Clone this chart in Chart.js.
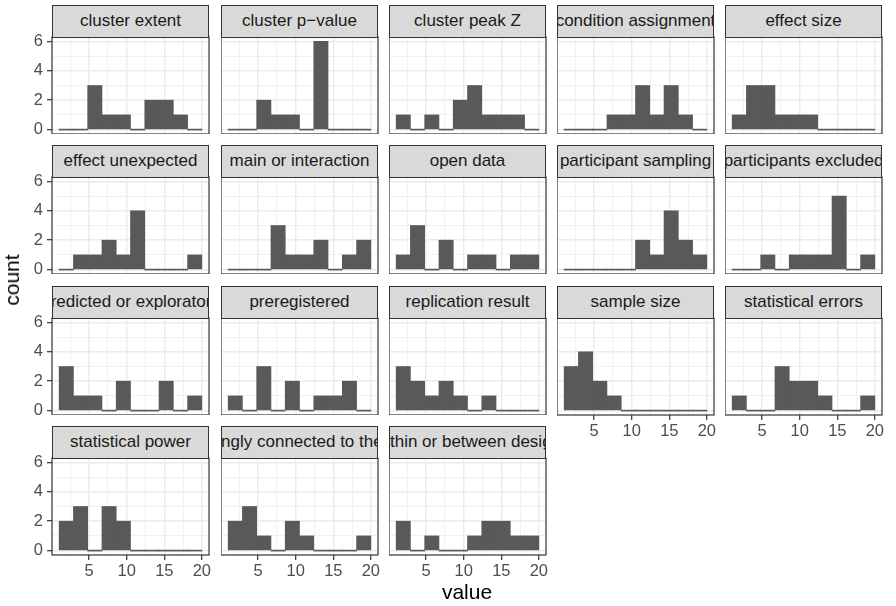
<!DOCTYPE html>
<html>
<head>
<meta charset="utf-8">
<script src="https://cdn.jsdelivr.net/npm/chart.js@4.4.0/dist/chart.umd.min.js"></script>
<style>
  body { margin: 0; background: #fff; width: 896px; height: 606px; position: relative; overflow: hidden; font-family: "Liberation Sans", Arial, sans-serif; }
  canvas { position: absolute; }
  .strip { position: absolute; box-sizing: border-box; background: #d9d9d9; border: 1px solid #333;
           display: flex; align-items: center; justify-content: center; overflow: hidden;
           white-space: nowrap; color: #1a1a1a; font-size: 17px; }
  .axis-title { position: absolute; color: #000; font-size: 21px; white-space: nowrap; }
</style>
</head>
<body>
<div id="plot"></div>
<script>
// ---- data -----------------------------------------------------------------
// 10 histogram bins of width 1.9 spanning 1..20 (bin centres)
const binCenters = [1.95, 3.85, 5.75, 7.65, 9.55, 11.45, 13.35, 15.25, 17.15, 19.05];
const xTicks = [5, 10, 15, 20];
const yTicks = [0, 2, 4, 6];

const facetNames = [
  'cluster extent', 'cluster p\u2212value', 'cluster peak Z', 'condition assignment', 'effect size',
  'effect unexpected', 'main or interaction', 'open data', 'participant sampling', 'participants excluded',
  'predicted or exploratory', 'preregistered', 'replication result', 'sample size', 'statistical errors',
  'statistical power', 'strongly connected to theory', 'within or between design'
];

const clusterExtent      = [0, 0, 3, 1, 1, 0, 2, 2, 1, 0];
const clusterPValue      = [0, 0, 2, 1, 1, 0, 6, 0, 0, 0];
const clusterPeakZ       = [1, 0, 1, 0, 2, 3, 1, 1, 1, 0];
const conditionAssign    = [0, 0, 0, 1, 1, 3, 1, 3, 1, 0];
const effectSize         = [1, 3, 3, 1, 1, 1, 0, 0, 0, 0];
const effectUnexpected   = [0, 1, 1, 2, 1, 4, 0, 0, 0, 1];
const mainOrInteraction  = [0, 0, 0, 3, 1, 1, 2, 0, 1, 2];
const openData           = [1, 3, 0, 2, 0, 1, 1, 0, 1, 1];
const participantSampling = [0, 0, 0, 0, 0, 2, 1, 4, 2, 1];
const participantsExcluded = [0, 0, 1, 0, 1, 1, 1, 5, 0, 1];
const predictedOrExpl    = [3, 1, 1, 0, 2, 0, 0, 2, 0, 1];
const preregistered      = [1, 0, 3, 0, 2, 0, 1, 1, 2, 0];
const replicationResult  = [3, 2, 1, 2, 1, 0, 1, 0, 0, 0];
const sampleSize         = [3, 4, 2, 1, 0, 0, 0, 0, 0, 0];
const statisticalErrors  = [1, 0, 0, 3, 2, 2, 1, 0, 0, 1];
const statisticalPower   = [2, 3, 0, 3, 2, 0, 0, 0, 0, 0];
const connectedToTheory  = [2, 3, 1, 0, 2, 1, 0, 0, 0, 1];
const withinOrBetween    = [2, 0, 1, 0, 0, 1, 2, 2, 1, 1];

const facetCounts = [
  clusterExtent, clusterPValue, clusterPeakZ, conditionAssign, effectSize,
  effectUnexpected, mainOrInteraction, openData, participantSampling, participantsExcluded,
  predictedOrExpl, preregistered, replicationResult, sampleSize, statisticalErrors,
  statisticalPower, connectedToTheory, withinOrBetween
];

// ---- layout ---------------------------------------------------------------
const NCOL = 5;
const colLeft = [52, 221, 389, 557, 725];
const rowTop = [37, 177, 318, 458];
const PW = 157, PH = 97, STRIP_H = 32.5;
const PAD_T = 12, PAD_R = 14, AXIS_L = 52, AXIS_B = 40;

Chart.defaults.font.family = '"Liberation Sans", Arial, sans-serif';

// minor grid at the midpoints between major breaks
const xGrid = [];
xTicks.forEach(v => { xGrid.push(v - 2.5, v); });
const yGrid = [];
yTicks.forEach((v, i) => { if (i > 0) yGrid.push(v - 1); yGrid.push(v); });

const panelFrame = {
  id: 'panelFrame',
  afterDraw(chart) {
    const a = chart.chartArea, ctx = chart.ctx;
    ctx.save();
    ctx.strokeStyle = '#333333';
    ctx.lineWidth = 1.2;
    ctx.strokeRect(a.left, a.top, a.right - a.left, a.bottom - a.top);
    ctx.restore();
  }
};

function makePanel(i) {
  const col = i % NCOL, row = Math.floor(i / NCOL);
  const showY = col === 0;
  const showX = i + NCOL >= facetNames.length;
  const L = showY ? AXIS_L : 0;
  const B = showX ? AXIS_B : 0;
  const plot = document.getElementById('plot');

  const canvas = document.createElement('canvas');
  const w = L + PW + PAD_R, h = PAD_T + PH + B;
  canvas.width = w; canvas.height = h;
  canvas.style.width = w + 'px'; canvas.style.height = h + 'px';
  canvas.style.left = (colLeft[col] - L) + 'px';
  canvas.style.top = (rowTop[row] - PAD_T) + 'px';
  plot.appendChild(canvas);

  const strip = document.createElement('div');
  strip.className = 'strip';
  strip.textContent = facetNames[i];
  strip.style.left = colLeft[col] + 'px';
  strip.style.top = (rowTop[row] - STRIP_H) + 'px';
  strip.style.width = PW + 'px';
  strip.style.height = (STRIP_H + 1) + 'px';
  plot.appendChild(strip);

  const counts = facetCounts[i];

  new Chart(canvas, {
    type: 'bar',
    data: {
      datasets: [{
        data: binCenters.map((x, j) => ({ x: x, y: counts[j] })),
        backgroundColor: '#595959',
        borderWidth: 0,
        barPercentage: 1,
        categoryPercentage: 1,
        minBarLength: 1
      }]
    },
    options: {
      responsive: false,
      animation: false,
      events: [],
      layout: { padding: { top: PAD_T, right: PAD_R, left: 0, bottom: 0 } },
      plugins: { legend: { display: false }, tooltip: { enabled: false } },
      scales: {
        x: {
          type: 'linear', min: 0.05, max: 20.95, offset: false,
          afterBuildTicks: s => { s.ticks = xGrid.map(v => ({ value: v })); },
          afterFit: s => { s.height = B; s.paddingLeft = 0; s.paddingRight = 0; },
          border: { display: false },
          grid: {
            offset: false,
            color: '#ebebeb',
            lineWidth: c => xTicks.includes(c.tick.value) ? 1.4 : 0.7,
            drawTicks: showX,
            tickLength: 5,
            tickWidth: 1.2,
            tickColor: c => xTicks.includes(c.tick.value) ? '#333333' : 'rgba(0,0,0,0)'
          },
          ticks: {
            display: showX, color: '#4d4d4d', font: { size: 16.5 }, padding: 2,
            maxRotation: 0, autoSkip: false,
            callback: v => xTicks.includes(v) ? String(v) : ''
          }
        },
        y: {
          type: 'linear', min: -0.3, max: 6.3,
          afterBuildTicks: s => { s.ticks = yGrid.map(v => ({ value: v })); },
          afterFit: s => { s.width = L; s.paddingTop = 0; s.paddingBottom = 0; },
          border: { display: false },
          grid: {
            color: '#ebebeb',
            lineWidth: c => yTicks.includes(c.tick.value) ? 1.4 : 0.7,
            drawTicks: showY,
            tickLength: 5,
            tickWidth: 1.2,
            tickColor: c => yTicks.includes(c.tick.value) ? '#333333' : 'rgba(0,0,0,0)'
          },
          ticks: {
            display: showY, color: '#4d4d4d', font: { size: 16.5 }, padding: 4,
            autoSkip: false,
            callback: v => yTicks.includes(v) ? String(v) : ''
          }
        }
      }
    },
    plugins: [panelFrame]
  });
}

function addTitles() {
  const plot = document.getElementById('plot');
  const xt = document.createElement('div');
  xt.className = 'axis-title';
  xt.textContent = 'value';
  xt.style.left = '467px'; xt.style.top = '592px';
  xt.style.transform = 'translate(-50%, -50%)';
  plot.appendChild(xt);

  const yt = document.createElement('div');
  yt.className = 'axis-title';
  yt.textContent = 'count';
  yt.style.left = '12px'; yt.style.top = '280px';
  yt.style.transform = 'translate(-50%, -50%) rotate(-90deg)';
  plot.appendChild(yt);
}

facetNames.forEach((_, i) => makePanel(i));
addTitles();
</script>
</body>
</html>
